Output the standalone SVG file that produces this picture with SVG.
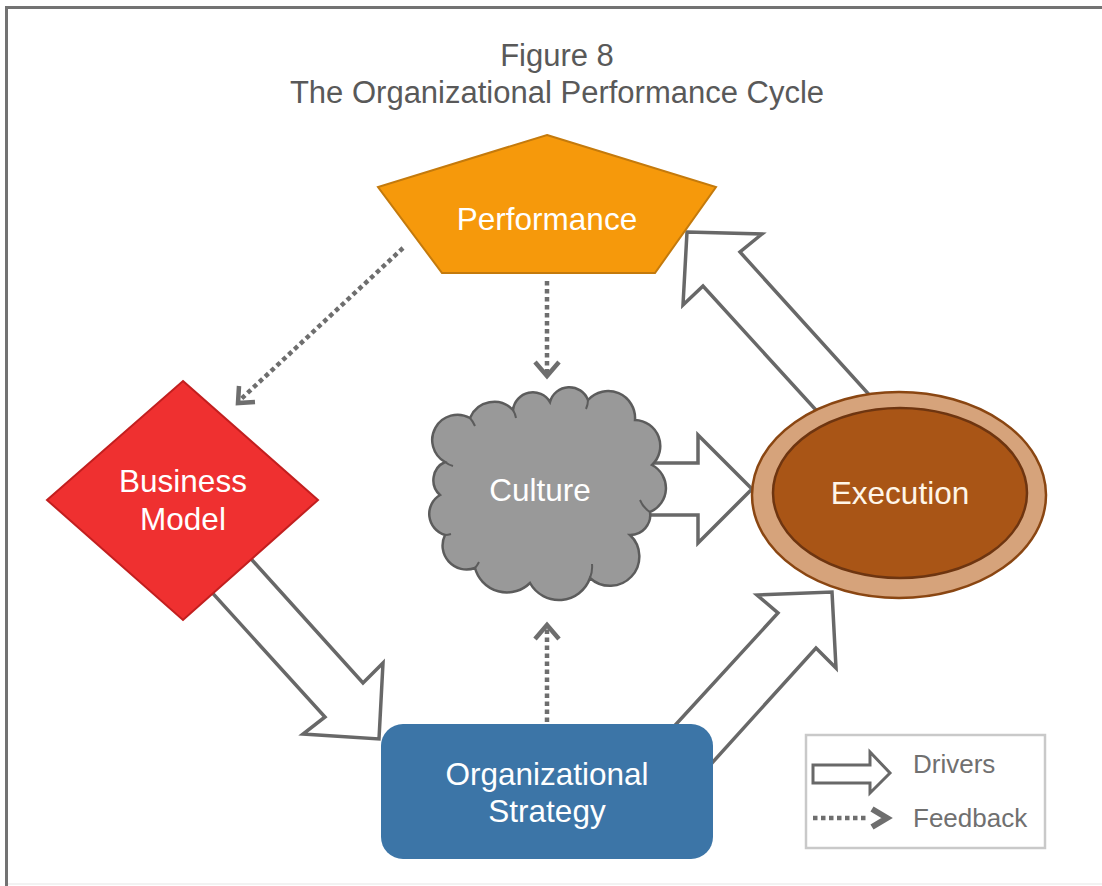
<svg xmlns="http://www.w3.org/2000/svg" width="1102" height="886" viewBox="0 0 1102 886">
<style>
.title{font-family:"Liberation Sans",Arial,sans-serif;font-size:31px;fill:#595959;text-anchor:middle}
.lbl{font-family:"Liberation Sans",Arial,sans-serif;font-size:31.5px;fill:#ffffff;text-anchor:middle}
.leg{font-family:"Liberation Sans",Arial,sans-serif;font-size:26px;fill:#707070}
.driver{fill:#ffffff;stroke:#686868;stroke-width:3.5;stroke-linejoin:miter}
.fb{fill:none;stroke:#6e6e6e;stroke-width:4.5;stroke-dasharray:4.5 3.5}
.fbhead{fill:none;stroke:#6e6e6e;stroke-width:4.5;stroke-linejoin:miter}
</style>
<rect x="0" y="0" width="1102" height="886" fill="#ffffff"/>
<g id="frame">
<line x1="6.5" y1="6" x2="6.5" y2="886" stroke="#737373" stroke-width="3"/>
<line x1="5" y1="7.5" x2="1102" y2="7.5" stroke="#737373" stroke-width="3"/>
<line x1="8" y1="884" x2="1102" y2="884" stroke="#eeeeee" stroke-width="1.5"/>
</g>
<g id="title">
<text class="title" x="557" y="66">Figure 8</text>
<text class="title" x="557" y="103">The Organizational Performance Cycle</text>
</g>
<g id="connectors">
<polygon class="driver" points="687,232 762,234 740,252 874,400 825,420 703,286 683,305"/>
<polygon class="driver" points="630,463 698,463 698,435 752,489 698,543 698,515 630,515"/>
<polygon class="driver" points="226,531 363,683 383,663 379,739 303,734 325,717 187,565"/>
<polygon class="driver" points="657,745 778,613 757,595 832,592 836,668 816,648 693,784"/>
<line class="fb" x1="547" y1="281" x2="547" y2="374"/>
<polyline class="fbhead" points="535,362 547,376 559,362"/>
<line class="fb" x1="403" y1="248" x2="240" y2="400"/>
<polyline class="fbhead" points="255,402 238,403 239,386"/>
<line class="fb" x1="547" y1="722" x2="547" y2="627"/>
<polyline class="fbhead" points="535,639 547,625 559,639"/>
</g>
<g id="performance">
<polygon points="547,135 716,187 655,273 442,273 378,187" fill="#f6990b" stroke="#c47a0c" stroke-width="2"/>
<text class="lbl" x="547" y="230">Performance</text>
</g>
<g id="business-model">
<polygon points="183,381 318,500 183,620 47,500" fill="#ef3030" stroke="#c21f1f" stroke-width="2"/>
<text class="lbl" x="183" y="492">Business</text>
<text class="lbl" x="183" y="530">Model</text>
</g>
<g id="culture">
<path d="M445,462 A24,24 0 0 1 470,418 A26,26 0 0 1 513,410 A20,20 0 0 1 550,402 A20,20 0 0 1 588,400 A27,27 0 0 1 635,420 A26,26 0 0 1 652,465 A26,26 0 0 1 650,512 A20,20 0 0 1 630,535 A28,28 0 0 1 590,578 A33,33 0 0 1 530,583 A33,33 0 0 1 475,568 A24,24 0 0 1 445,535 A22,22 0 0 1 440,495 A20,20 0 0 1 445,462 Z" fill="#999999" stroke="#5c5c5c" stroke-width="2.5"/>
<path d="M470,418 a30,30 0 0 1 5,8 M513,410 a24,24 0 0 1 3,8 M588,400 a22,22 0 0 1 -2,9 M650,512 a26,26 0 0 1 -10,-12 M590,578 a30,30 0 0 0 2,-14 M475,568 a30,30 0 0 0 4,-6 M445,535 a24,24 0 0 0 6,-1 M445,462 a22,22 0 0 0 8,4" fill="none" stroke="#5c5c5c" stroke-width="2"/>
<text class="lbl" x="540" y="501">Culture</text>
</g>
<g id="execution">
<ellipse cx="899" cy="495" rx="147" ry="103" fill="#d6a37b" stroke="#8a4612" stroke-width="2.5"/>
<ellipse cx="900" cy="493" rx="127" ry="85" fill="#a95516" stroke="#6e3510" stroke-width="2.5"/>
<text class="lbl" x="900" y="504" style="fill:#fff6e8">Execution</text>
</g>
<g id="organizational-strategy">
<rect x="381" y="724" width="332" height="135" rx="22" ry="22" fill="#3c75a7"/>
<text class="lbl" x="547" y="785">Organizational</text>
<text class="lbl" x="547" y="822">Strategy</text>
</g>
<g id="legend">
<rect x="806" y="735" width="239" height="113" fill="#ffffff" stroke="#c9c9c9" stroke-width="2.5"/>
<polygon points="813,765 870,765 870,752 890,773 870,793 870,783 813,783" fill="#ffffff" stroke="#686868" stroke-width="3"/>
<line class="fb" x1="813" y1="818" x2="868" y2="818"/>
<polyline points="872,809 887,818 872,827" fill="none" stroke="#6e6e6e" stroke-width="6" stroke-linejoin="miter"/>
<text class="leg" x="913" y="773">Drivers</text>
<text class="leg" x="913" y="827">Feedback</text>
</g>
</svg>
